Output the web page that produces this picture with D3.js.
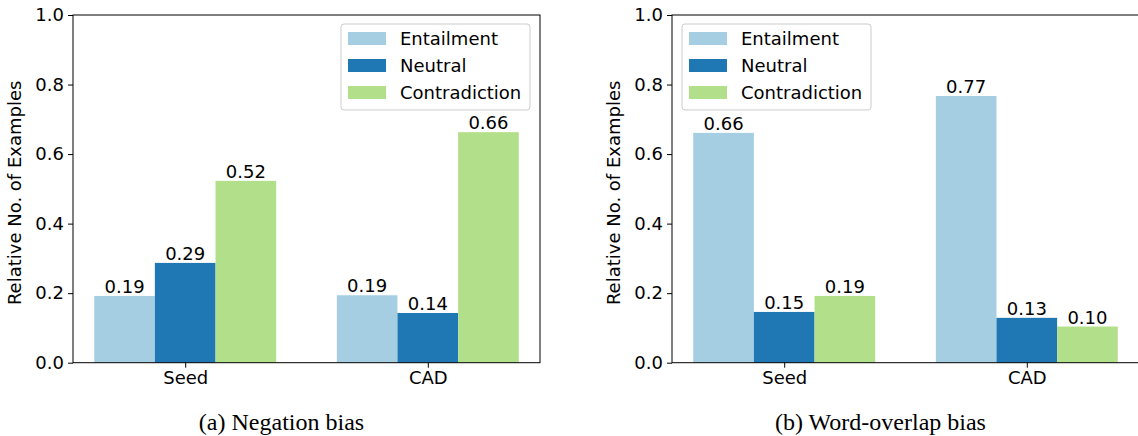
<!DOCTYPE html>
<html>
<head>
<meta charset="utf-8">
<script src="https://cdn.jsdelivr.net/npm/d3@7"></script>
<style>
  body { margin: 0; background: #fff; }
  text { font-family: "DejaVu Sans", sans-serif; fill: #000; }
</style>
</head>
<body>
<svg id="chart"></svg>
<script>
const categories = ["Seed", "CAD"];
const seriesNames = ["Entailment", "Neutral", "Contradiction"];
const colors = ["#a6cee3", "#1f78b4", "#b2df8a"];
const yTicks = [0.0, 0.2, 0.4, 0.6, 0.8, 1.0];

// negation bias: one array per series, values for [Seed, CAD]
const negEntailment = [0.192, 0.194];
const negNeutral = [0.287, 0.143];
const negContradiction = [0.523, 0.663];

// word-overlap bias
const wordEntailment = [0.661, 0.767];
const wordNeutral = [0.146, 0.129];
const wordContradiction = [0.192, 0.104];

const captions = ["(a) Negation bias", "(b) Word-overlap bias"];

const width = 1138, height = 436;
const svg = d3.select("#chart").attr("width", width).attr("height", height);

const barW = 0.25;
const axW = 467, axH = 347.7;
const fs = "18px";

const drawPanel = (left, top, series, caption) => {
  const g = svg.append("g").attr("transform", `translate(${left},${top})`);
  const lo = -1.5 * barW, hi = 1 + 1.5 * barW;
  const pad = (hi - lo) * 0.05;
  const x = d3.scaleLinear().domain([lo - pad, hi + pad]).range([0, axW]);
  const y = d3.scaleLinear().domain([0, 1]).range([axH, 0]);

  // bars
  series.forEach((vals, si) => {
    const off = (si - 1) * barW;
    const bars = g.selectAll(".bar" + si)
      .data(vals)
      .enter()
      .append("g");
    bars.append("rect")
      .attr("x", (d, i) => x(i + off - barW / 2))
      .attr("y", d => y(d))
      .attr("width", x(barW) - x(0))
      .attr("height", d => axH - y(d))
      .attr("fill", colors[si]);
    bars.append("text")
      .attr("x", (d, i) => x(i + off))
      .attr("y", d => y(d) - 3)
      .attr("text-anchor", "middle")
      .style("font-size", fs)
      .text(d => d.toFixed(2));
  });

  // y axis
  const yAxis = g.append("g")
    .call(d3.axisLeft(y).tickValues(yTicks).tickFormat(d3.format(".1f")).tickSize(5).tickPadding(4));
  yAxis.select(".domain").remove();
  yAxis.selectAll("text").style("font-size", fs).style("font-family", "DejaVu Sans");
  yAxis.selectAll("line").attr("stroke", "#000");

  // x axis
  const xAxis = g.append("g")
    .attr("transform", `translate(0,${axH})`)
    .call(d3.axisBottom(x).tickValues([0, 1]).tickFormat((d, i) => categories[i]).tickSize(5).tickPadding(4));
  xAxis.select(".domain").remove();
  xAxis.selectAll("text").style("font-size", fs).style("font-family", "DejaVu Sans");

  // frame
  g.append("rect")
    .attr("width", axW).attr("height", axH)
    .attr("fill", "none").attr("stroke", "#000").attr("stroke-width", 1);

  // y label
  g.append("text")
    .attr("transform", `translate(-52,${axH / 2 + 4}) rotate(-90)`)
    .attr("text-anchor", "middle")
    .style("font-size", fs)
    .text("Relative No. of Examples");

  // legend
  const lg = g.append("g").attr("class", "legend");
  lg.append("rect")
    .attr("x", 0).attr("y", 0).attr("width", 189).attr("height", 86)
    .attr("rx", 3)
    .attr("fill", "#fff").attr("fill-opacity", 0.8)
    .attr("stroke", "#ccc").attr("stroke-width", 1);
  seriesNames.forEach((name, i) => {
    lg.append("rect")
      .attr("x", 7).attr("y", 8 + i * 27).attr("width", 38).attr("height", 13)
      .attr("fill", colors[i]);
    lg.append("text")
      .attr("x", 59).attr("y", 21 + i * 27)
      .style("font-size", fs)
      .text(name);
  });

  // caption
  g.append("text")
    .attr("x", axW / 2 - 25)
    .attr("y", 430 - top)
    .attr("text-anchor", "middle")
    .style("font-family", "Liberation Serif, serif")
    .style("font-size", "24px")
    .text(caption);

  return lg;
};

const lg1 = drawPanel(73, 15, [negEntailment, negNeutral, negContradiction], captions[0]);
lg1.attr("transform", "translate(268,9)");
const lg2 = drawPanel(672, 15, [wordEntailment, wordNeutral, wordContradiction], captions[1]);
lg2.attr("transform", "translate(10,9)");
</script>
</body>
</html>
